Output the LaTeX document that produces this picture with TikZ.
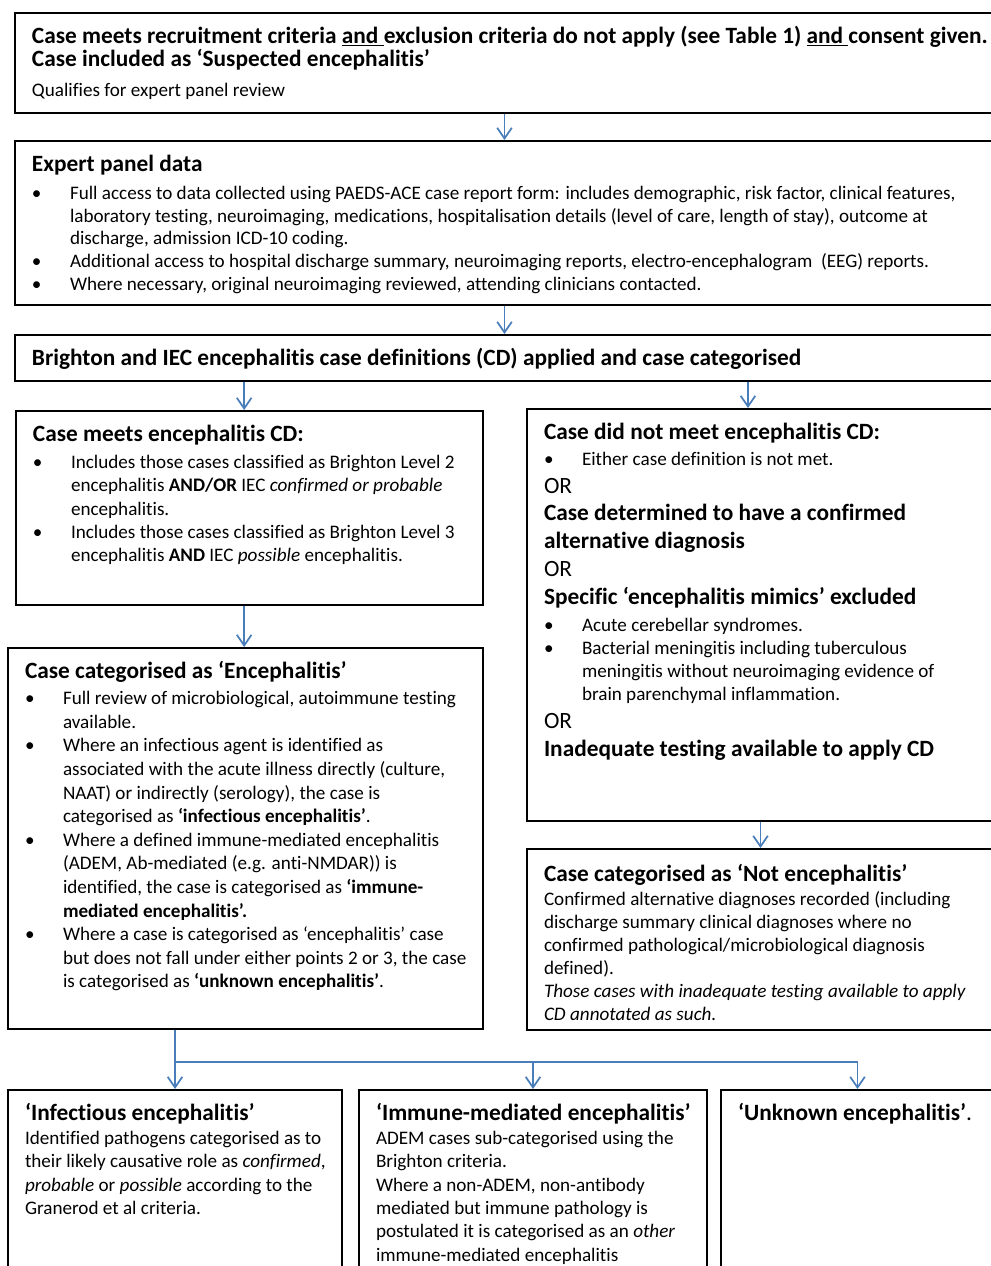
\documentclass[tikz,border=0pt]{standalone}
\usepackage{fontspec}
\setmainfont{Carlito}[Ligatures={TeX,NoCommon}]
\usepackage{enumitem}
\usetikzlibrary{positioning}
\usetikzlibrary{arrows.meta}

\definecolor{flowblue}{RGB}{74,126,187}

% text styles
\newcommand{\hd}{\fontsize{17.5pt}{17.25pt}\selectfont\bfseries}
\newcommand{\bd}{\fontsize{14.35pt}{17.5pt}\selectfont\mdseries}
% box body: [first line height]{width px}{height px}{text}
\newcommand{\panel}[4][18.8pt]{\hspace*{12.75pt}%
  \begin{minipage}[t][\dimexpr 0.75pt*#3-8pt\relax][t]{\dimexpr 0.75pt*#2-13.75pt\relax}%
  \raggedright\lineskiplimit=-4pt\rule{0pt}{#1}#4\end{minipage}\hspace*{1pt}}
\newlist{bul}{itemize}{1}
\setlist[bul]{label=\textbullet, leftmargin=28.5pt, labelindent=0pt, labelwidth=22pt,
  labelsep=6.5pt, align=left, topsep=0pt, partopsep=0pt, itemsep=0pt, parsep=0pt}

\begin{document}
\begin{tikzpicture}[x=0.75pt, y=-0.75pt,
    box/.style={draw, line width=1.5pt, anchor=north west, inner xsep=0pt, inner ysep=4pt},
    arr/.style={draw=flowblue, line width=1.3pt, -{Straight Barb[length=8pt,width=11pt]}},
    link/.style={draw=flowblue, line width=1.3pt}
]
    \useasboundingbox (0,0) rectangle (991,1266);

    % Inclusion
    \node[box] (recruit) at (14,12) {\panel{979}{100}{\hd \mbox{Case meets recruitment criteria \underline{and }exclusion criteria do not apply (see Table 1) \underline{and }consent given.}\\
        Case included as ‘Suspected encephalitis’\par\vspace{5.4pt}\bd Qualifies for expert panel review}};

    % Panel data
    \node[box] (expert) at (14,140) {\panel{979}{164}{\hd Expert panel data\par\vspace{4.5pt}\fontsize{14.35pt}{16.9pt}\selectfont\mdseries
        \begin{bul}
        \item Full access to data collected using PAEDS-ACE case report form: includes demographic, risk factor, clinical features,\\
            laboratory testing, neuroimaging, medications, hospitalisation details (level of care, length of stay), outcome at\\
            discharge, admission ICD-10 coding.
        \item Additional access to hospital discharge summary, neuroimaging reports, electro-encephalogram~ (EEG) reports.
        \item Where necessary, original neuroimaging reviewed, attending clinicians contacted.
        \end{bul}}};

    \node[box] (brighton) at (14,334) {\panel{979}{46}{\hd Brighton and IEC encephalitis case definitions (CD) applied and case categorised}};

    % Left branch
    \node[box] (meets) at (15,410) {\panel{467}{194}{\hd Case meets encephalitis CD:\par\vspace{2.75pt}\bd
        \begin{bul}
        \item Includes those cases classified as Brighton Level 2\\
            encephalitis \textbf{AND/OR} IEC \textit{confirmed or probable}\\
            encephalitis.
        \item Includes those cases classified as Brighton Level 3\\
            encephalitis \textbf{AND} IEC \textit{possible} encephalitis.
        \end{bul}}};

    \node[box] (enc) at (7,647) {\panel{475}{381}{\hd Case categorised as ‘Encephalitis’\par\vspace{2pt}\fontsize{14.35pt}{17.7pt}\selectfont\mdseries
        \begin{bul}
        \item Full review of microbiological, autoimmune testing\\
            available.
        \item Where an infectious agent is identified as\\
            associated with the acute illness directly (culture,\\
            NAAT) or indirectly (serology), the case is\\
            categorised as \textbf{‘infectious encephalitis’}.
        \item Where a defined immune-mediated encephalitis\\
            (ADEM, Ab-mediated (e.g. anti-NMDAR)) is\\
            identified, the case is categorised as \textbf{‘immune-}\\
            \textbf{mediated encephalitis’.}
        \item Where a case is categorised as ‘encephalitis’ case\\
            but does not fall under either points 2 or 3, the case\\
            is categorised as \textbf{‘unknown encephalitis’}.
        \end{bul}}};

    % Right branch
    \node[box] (notmeet) at (526,408) {\panel{467}{412}{\fontsize{17.5pt}{20.8pt}\selectfont\bfseries Case did not meet encephalitis CD:\par
        \vspace{2.1pt}\fontsize{14.35pt}{17.4pt}\selectfont\mdseries
        \begin{bul}
        \item Either case definition is not met.
        \end{bul}
        \fontsize{17.5pt}{20.8pt}\selectfont OR\par
        \bfseries Case determined to have a confirmed\\
        alternative diagnosis\par
        \mdseries OR\par
        \bfseries Specific ‘encephalitis mimics’ excluded\par
        \vspace{2.85pt}\fontsize{14.35pt}{17.4pt}\selectfont\mdseries
        \begin{bul}
        \item Acute cerebellar syndromes.
        \item Bacterial meningitis including tuberculous\\
            meningitis without neuroimaging evidence of\\
            brain parenchymal inflammation.
        \end{bul}
        \fontsize{17.5pt}{20.8pt}\selectfont OR\par
        \bfseries Inadequate testing available to apply CD}};

    \node[box] (notenc) at (526,848) {\panel[20.6pt]{467}{181}{\hd Case categorised as ‘Not encephalitis’\par\vspace{0.75pt}\fontsize{14.35pt}{17.25pt}\selectfont\mdseries
        Confirmed alternative diagnoses recorded (including\\
        discharge summary clinical diagnoses where no\\
        confirmed pathological/microbiological diagnosis\\
        defined).\\
        \textit{Those cases with inadequate testing available to apply\\
        CD annotated as such.}}};

    % Encephalitis categories
    \node[box] (infect) at (7,1089) {\panel{334}{200}{\hd ‘Infectious encephalitis’\par\vspace{0.5pt}\bd
        Identified pathogens categorised as to\\
        their likely causative role as \textit{confirmed},\\
        \textit{probable} or \textit{possible} according to the\\
        Granerod et al criteria.}};

    \node[box] (immune) at (358,1089) {\panel{348}{200}{\hd ‘Immune-mediated encephalitis’\par\vspace{0.5pt}\bd
        ADEM cases sub-categorised using the\\
        Brighton criteria.\\
        Where a non-ADEM, non-antibody\\
        mediated but immune pathology is\\
        postulated it is categorised as an \textit{other}\\
        immune-mediated encephalitis}};

    \node[box] (unknown) at (720,1089) {\panel{273}{200}{\hd ‘Unknown encephalitis’\mdseries.}};

    % Connectors
    \coordinate (meets-in) at ([xshift=-4pt]meets.north);
    \coordinate (notmeet-in) at ([xshift=-9.4pt]notmeet.north);

    \draw[arr] (recruit.south) -- (expert.north);
    \draw[arr] (expert.south) -- (brighton.north);
    \draw[arr] (brighton.south -| meets-in) -- (meets-in);
    \draw[arr] (brighton.south -| notmeet-in) -- (notmeet-in);
    \draw[arr] (meets.south -| meets-in) -- (enc.north -| meets-in);
    \draw[arr] (notmeet.south) -- (notenc.north);

    \path (enc.south -| infect.north) ++(0,32) coordinate (split);
    \draw[link] (enc.south -| infect.north) -- (split) -- (split -| unknown.north);
    \draw[arr] (split) -- (infect.north);
    \draw[arr] (split -| immune.north) -- (immune.north);
    \draw[arr] (split -| unknown.north) -- (unknown.north);
\end{tikzpicture}
\end{document}
